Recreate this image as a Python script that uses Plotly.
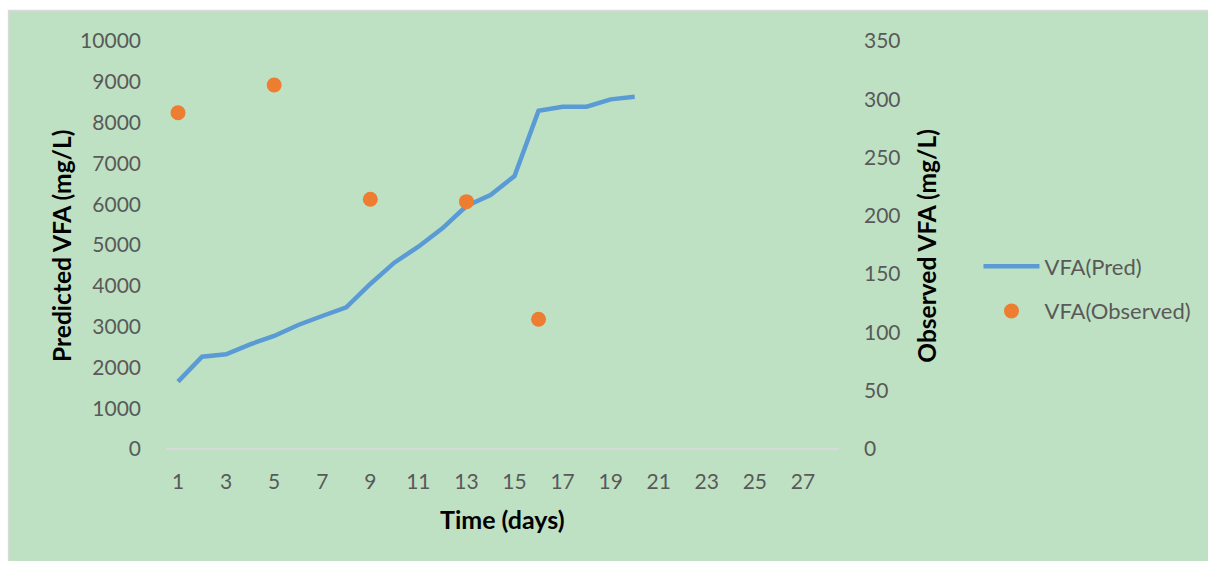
import plotly.graph_objects as go

days_pred = list(range(1, 21))
vfa_pred = [1650, 2262, 2320, 2566, 2770, 3039, 3260, 3472, 4044, 4567,
            4959, 5409, 5956, 6225, 6691, 8292, 8390, 8390, 8570, 8635]
days_obs = [1, 5, 9, 13, 16]
vfa_obs = [288.5, 312.3, 214.2, 212.2, 111.3]
x_ticks = list(range(1, 28, 2))

W, H = 1208, 561
L, R, T, B = 165.5, 841, 41, 449
pw, ph = R - L, B - T

def px(xp):
    return (xp - L) / pw

def py(yp):
    return (B - yp) / ph

font_fam = "Lato, 'Open Sans', sans-serif"
tick_col = "#595959"

fig = go.Figure()
fig.add_trace(go.Scatter(x=days_pred, y=vfa_pred, mode="lines", name="VFA(Pred)",
                         legendgroup="a",
                         line=dict(color="#5B9BD5", width=4.5), yaxis="y"))
fig.add_trace(go.Scatter(x=days_obs, y=vfa_obs, mode="markers", name="VFA(Observed)",
                         legendgroup="b",
                         marker=dict(color="#ED7D31", size=15), yaxis="y2"))

fig.update_layout(
    width=W, height=H,
    margin=dict(l=L, r=W - R, t=T, b=H - B, pad=0),
    paper_bgcolor="white",
    plot_bgcolor="rgba(0,0,0,0)",
    font=dict(family=font_fam, size=20, color=tick_col),
    showlegend=True,
    legend=dict(x=px(981), y=py(245.5), xanchor="left", yanchor="top",
                bgcolor="rgba(0,0,0,0)", font=dict(size=22, color=tick_col),
                itemwidth=56, tracegroupgap=13),
    xaxis=dict(range=[0.5, 28.5], tickmode="array", tickvals=x_ticks,
               ticktext=[str(v) for v in x_ticks], showgrid=False, zeroline=False,
               showline=False, ticks="", ticklabelstandoff=18,
               tickfont=dict(size=21, color=tick_col)),
    yaxis=dict(range=[0, 10000], dtick=1000, tickformat="d", showgrid=False,
               zeroline=True, zerolinecolor="#D9D9D9", zerolinewidth=2,
               showline=False, ticks="", ticklabelstandoff=24,
               tickfont=dict(size=21, color=tick_col)),
    yaxis2=dict(range=[0, 350], dtick=50, tickformat="d", overlaying="y", side="right",
                showgrid=False, zeroline=False, showline=False, ticks="",
                ticklabelstandoff=24, tickfont=dict(size=21, color=tick_col)),
    shapes=[dict(type="rect", xref="paper", yref="paper", layer="below",
                 x0=px(7.5), x1=px(W + 5), y0=py(H + 5), y1=py(10.5),
                 fillcolor="#BFE1C3", line=dict(color="#D9D9D9", width=1.5))],
    annotations=[
        dict(text="<b>Time (days)</b>", xref="paper", yref="paper",
             x=px(503), y=py(519), xanchor="center", yanchor="middle",
             showarrow=False, font=dict(size=25, color="black")),
        dict(text="<b>Predicted VFA (mg/L)</b>", xref="paper", yref="paper",
             x=px(60), y=py(246), xanchor="center", yanchor="middle", textangle=-90,
             showarrow=False, font=dict(size=24.5, color="black")),
        dict(text="<b>Observed VFA (mg/L)</b>", xref="paper", yref="paper",
             x=px(928), y=py(246), xanchor="center", yanchor="middle", textangle=-90,
             showarrow=False, font=dict(size=24.5, color="black")),
    ],
)

fig.write_html("out.html", config={"displayModeBar": False},
               post_script="document.body.style.margin='0px';")
